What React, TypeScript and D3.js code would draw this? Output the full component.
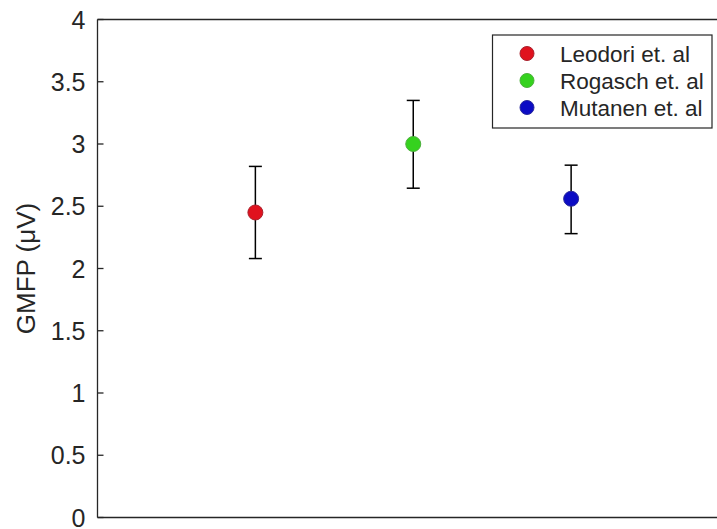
import React from "react";
import * as d3 from "d3";

const studies = ["Leodori et. al", "Rogasch et. al", "Mutanen et. al"];
const positions = [1, 2, 3];
const means = [2.45, 3.0, 2.56];
const lowers = [2.08, 2.645, 2.28];
const uppers = [2.82, 3.35, 2.83];
const fills = ["#e0121e", "#35d21e", "#0c0cc4"];
const edges = ["#a8222e", "#4cb03c", "#2a2a9c"];
const yTicks = [0, 0.5, 1, 1.5, 2, 2.5, 3, 3.5, 4];

const W = 717;
const H = 529;
const axisColor = "#262626";
const font = "'Liberation Sans', Arial, Helvetica, sans-serif";

export default function App() {
  const x = d3.scaleLinear().domain([0, 4]).range([97.5, 729]);
  const y = d3.scaleLinear().domain([0, 4]).range([517.5, 19.5]);
  const cap = 6.5;

  return (
    <svg
      width={W}
      height={H}
      style={{ position: "absolute", left: 0, top: 0, background: "#fff" }}
    >
      <rect x={0} y={0} width={W} height={H} fill="#fff" />

      {/* axes box */}
      <line x1={x(0)} x2={W} y1={y(4)} y2={y(4)} stroke={axisColor} strokeWidth={1.3} />
      <line x1={x(0)} x2={W} y1={y(0)} y2={y(0)} stroke={axisColor} strokeWidth={1.3} />
      <line x1={x(0)} x2={x(0)} y1={y(0)} y2={y(4)} stroke={axisColor} strokeWidth={1.3} />

      {/* y ticks and labels */}
      {yTicks.map((t) => (
        <g key={t}>
          <line x1={x(0)} x2={x(0) + 6} y1={y(t)} y2={y(t)} stroke={axisColor} strokeWidth={1.3} />
          <text
            x={x(0) - 12}
            y={y(t)}
            dy="0.36em"
            textAnchor="end"
            fontFamily={font}
            fontSize={25}
            fill={axisColor}
          >
            {d3.format("")(t)}
          </text>
        </g>
      ))}

      {/* y label */}
      <text
        transform={`translate(26,${y(2)}) rotate(-90)`}
        textAnchor="middle"
        dy="0.36em"
        fontFamily={font}
        fontSize={26}
        fill={axisColor}
      >
        GMFP (μV)
      </text>

      {/* error bars */}
      {positions.map((p, i) => (
        <g key={studies[i]} stroke="#000" strokeWidth={1.5}>
          <line x1={x(p)} x2={x(p)} y1={y(lowers[i])} y2={y(uppers[i])} />
          <line x1={x(p) - cap} x2={x(p) + cap} y1={y(lowers[i])} y2={y(lowers[i])} />
          <line x1={x(p) - cap} x2={x(p) + cap} y1={y(uppers[i])} y2={y(uppers[i])} />
        </g>
      ))}

      {/* means */}
      {positions.map((p, i) => (
        <circle
          key={studies[i]}
          cx={x(p)}
          cy={y(means[i])}
          r={7.5}
          fill={fills[i]}
          stroke={edges[i]}
          strokeWidth={1}
        />
      ))}

      {/* legend */}
      <g>
        <rect x={492.5} y={35} width={219.5} height={93} fill="#fff" stroke={axisColor} strokeWidth={1.2} />
        {studies.map((s, i) => (
          <g key={s} transform={`translate(0,${53.5 + i * 27})`}>
            <circle cx={527} cy={0} r={7} fill={fills[i]} stroke={edges[i]} strokeWidth={1} />
            <text
              x={560}
              y={0}
              dy="0.36em"
              fontFamily={font}
              fontSize={22.5}
              fill={axisColor}
            >
              {s}
            </text>
          </g>
        ))}
      </g>
    </svg>
  );
}
